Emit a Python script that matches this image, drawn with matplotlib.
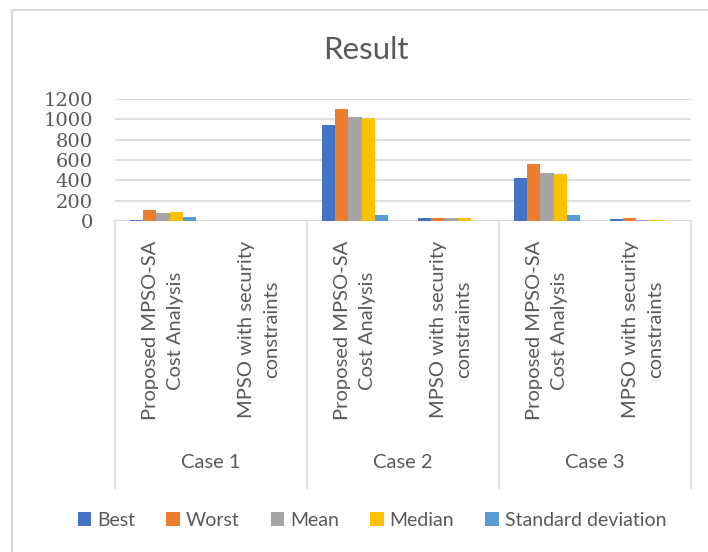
import numpy as np
import matplotlib
matplotlib.use("Agg")
import matplotlib.pyplot as plt
from matplotlib.patches import Rectangle

# === data ===
cases = ["Case 1", "Case 2", "Case 3"]
methods = ["Proposed MPSO-SA\nCost Analysis", "MPSO with security\nconstraints"]
series = ["Best", "Worst", "Mean", "Median", "Standard deviation"]

best = [13, 0, 948, 25, 421, 15]
worst = [113, 0, 1104, 25, 557, 25]
mean = [77, 0, 1025, 25, 468, 10]
median = [90, 0, 1012, 25, 465, 12]
std_dev = [43, 0, 57, 0, 57, 0]

colors = ["#4472C4", "#ED7D31", "#A5A5A5", "#FFC000", "#5B9BD5"]
TXT = "#595959"
GRID = "#D9D9D9"
SANS = ["Lato", "DejaVu Sans"]

W, H = 708, 552
fig = plt.figure(figsize=(W / 100, H / 100), dpi=100)

# plot area in pixels: x 115..691, y 99..221
ax = fig.add_axes([115 / W, 1 - 221 / H, 576 / W, 122 / H])

n_cat = len(best)
x = np.arange(n_cat)
bw = 0.138
all_vals = [best, worst, mean, median, std_dev]
for k, (vals, c, name) in enumerate(zip(all_vals, colors, series)):
    ax.bar(x + (k - 2) * bw, vals, width=bw, color=c, label=name, zorder=3)

ax.set_xlim(-0.5, n_cat - 0.5)
ax.set_ylim(0, 1200)
ax.set_yticks(np.arange(0, 1201, 200))
ax.yaxis.grid(True, color=GRID, lw=1.2, zorder=0)
for s in ax.spines.values():
    s.set_visible(False)
ax.tick_params(axis="y", length=0, pad=16, labelsize=14, labelcolor=TXT)
for lab in ax.get_yticklabels():
    lab.set_family("DejaVu Serif")
ax.set_xticks([])
ax.axhline(0, color=GRID, lw=1.2, zorder=2)

# category dividers and labels below the axis
tr = ax.get_xaxis_transform()
px = 1 / 122.0
for b in [-0.5, 1.5, 3.5, 5.5]:
    ax.plot([b, b], [0, -(488 - 221) * px], transform=tr, color=GRID, lw=1.2, clip_on=False)

for i in range(n_cat):
    ax.text(i, -(241 - 221) * px, methods[i % 2], transform=tr, rotation=90,
            ha="center", va="top", multialignment="center", fontsize=14.5,
            color=TXT, family=SANS, linespacing=1.55)

for j, c in enumerate(cases):
    ax.text(2 * j + 0.5, -(463 - 221) * px, c, transform=tr, ha="center", va="center",
            fontsize=14.5, color=TXT, family=SANS)

# title
fig.text(366 / W, 1 - 50 / H, "Result", ha="center", va="center", fontsize=22.5,
         color=TXT, family=SANS)

# outer chart border (partly off the image)
fig.patches.append(Rectangle((12 / W, -0.2), 2, 1.2 - 10 / H, transform=fig.transFigure,
                             fill=False, edgecolor=GRID, lw=1.5))

leg = fig.legend(loc="center", bbox_to_anchor=(372 / W, 1 - 520 / H), ncol=5, frameon=False,
                 handlelength=0.7, handleheight=0.7, handletextpad=0.3, columnspacing=1.6,
                 prop={"family": SANS, "size": 14})
for t in leg.get_texts():
    t.set_color(TXT)

fig.savefig("out.png", dpi=100)
